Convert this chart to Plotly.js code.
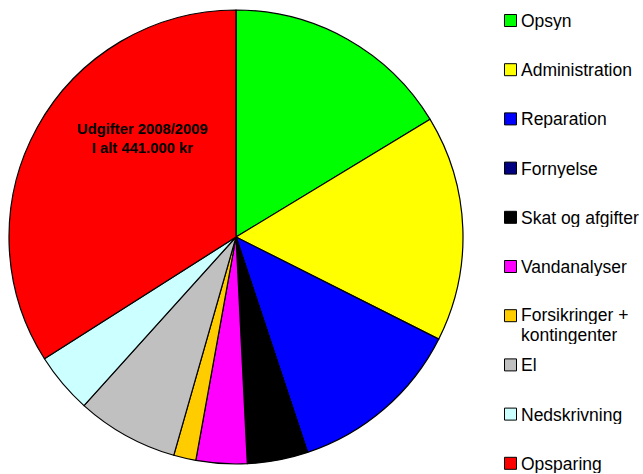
<!DOCTYPE html>
<html><head><meta charset="utf-8">
<script src="https://cdn.plot.ly/plotly-3.0.1.min.js"></script>
<style>html,body{margin:0;padding:0;background:#fff}#chart{width:643px;height:474px}</style>
</head><body><div id="chart"></div>
<script>
// Values in thousand kr (total 441.000 kr)
var labels = ["Opsyn","Administration","Reparation","Fornyelse","Skat og afgifter","Vandanalyser","Forsikringer +<br>kontingenter","El","Nedskrivning","Opsparing"];
var values = [72, 71, 55, 0, 19, 16, 7, 32, 19, 150];
var colors = ["#00FF00","#FFFF00","#0000FF","#000080","#000000","#FF00FF","#FFCC00","#C0C0C0","#CCFFFF","#FF0000"];
var titleLines = ["Udgifter 2008/2009","I alt 441.000 kr"];

var W = 643, H = 474;
var FONT = "Liberation Sans, Arial, sans-serif";
function px(x){ return x / W; }
function py(y){ return 1 - y / H; }

var trace = {
  type: "pie",
  labels: labels,
  values: values,
  marker: {colors: colors, line: {color: "#000", width: 1.2}},
  sort: false,
  direction: "clockwise",
  rotation: 0,
  textinfo: "none",
  hoverinfo: "label+value",
  showlegend: false,
  domain: {x: [px(9), px(463)], y: [py(464), py(10)]}
};

// Legend built from the label / colour arrays (layout only)
var shapes = [], annotations = [];
var legTop = 20.5, legStep = 49.2, lineStep = 20.5, boxHalf = 6, boxX0 = 504.5, textX = 519.5;
labels.forEach(function(lab, i){
  var yc = legTop + i * legStep;
  shapes.push({
    type: "rect", xref: "paper", yref: "paper",
    x0: px(boxX0), x1: px(boxX0 + 2*boxHalf), y0: py(yc + boxHalf), y1: py(yc - boxHalf),
    fillcolor: colors[i], line: {color: "#000", width: 1}
  });
  var lines = lab.split("<br>");
  var shift = lines.length > 1 ? -1.5 : 0;
  lines.forEach(function(line, j){
    annotations.push({
      x: px(textX), y: py(yc + shift + j * lineStep), xref: "paper", yref: "paper",
      xanchor: "left", yanchor: "middle", showarrow: false, text: line,
      height: 19, borderpad: 0,
      font: {family: FONT, size: 17.5, color: "#000"}
    });
  });
});

annotations.push({
  x: px(142), y: py(138.5), xref: "paper", yref: "paper",
  xanchor: "center", yanchor: "middle",
  text: "<b>" + titleLines.join("<br>") + "</b>",
  showarrow: false,
  font: {family: FONT, size: 14.8, color: "#000"}
});

var layout = {
  width: W, height: H,
  margin: {l:0, r:0, t:0, b:0},
  paper_bgcolor: "#fff",
  showlegend: false,
  shapes: shapes,
  annotations: annotations
};
Plotly.newPlot("chart", [trace], layout, {displayModeBar: false, staticPlot: true});
</script></body></html>
